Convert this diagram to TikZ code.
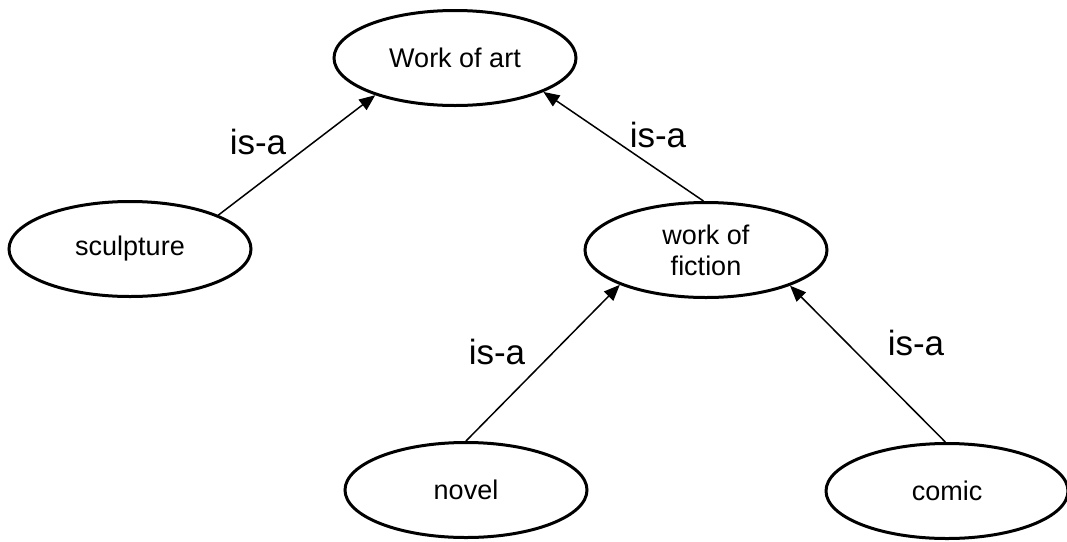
\documentclass[tikz,border=0pt]{standalone}
\usepackage{fontspec}
\setmainfont{Liberation Sans}
\usetikzlibrary{shapes.geometric,arrows.meta}
\begin{document}
\begin{tikzpicture}[x=1pt,y=-1pt,
  concept/.style={ellipse,draw,line width=3pt,minimum width=242pt,minimum height=95pt,inner sep=0pt,align=center,font=\fontsize{27}{31}\selectfont},
  isa/.style={line width=1.5pt,-{Triangle[length=16pt,width=13pt]}},
  lbl/.style={font=\fontsize{35}{40}\selectfont,inner sep=0pt}]
\useasboundingbox (0,0) rectangle (1067,541);
\node[concept] (art) at (455,58) {Work of art};
\node[concept] (sculpture) at (130,249) {sculpture};
\node[concept] (fiction) at (706,250) {work of\\fiction};
\node[concept] (novel) at (466,490) {novel};
\node[concept] (comic) at (947,491) {comic};
\draw[isa] (sculpture.21) -- (art.205);
\draw[isa] (fiction.93) -- (art.-21);
\draw[isa] (novel.90) -- (fiction.202);
\draw[isa] (comic.92) -- (fiction.-23);
\node[lbl] (l1) at (258,142) {is-a};
\node[lbl] (l2) at (658,135) {is-a};
\node[lbl] (l3) at (497,352) {is-a};
\node[lbl] (l4) at (916,343) {is-a};
\end{tikzpicture}
\end{document}
